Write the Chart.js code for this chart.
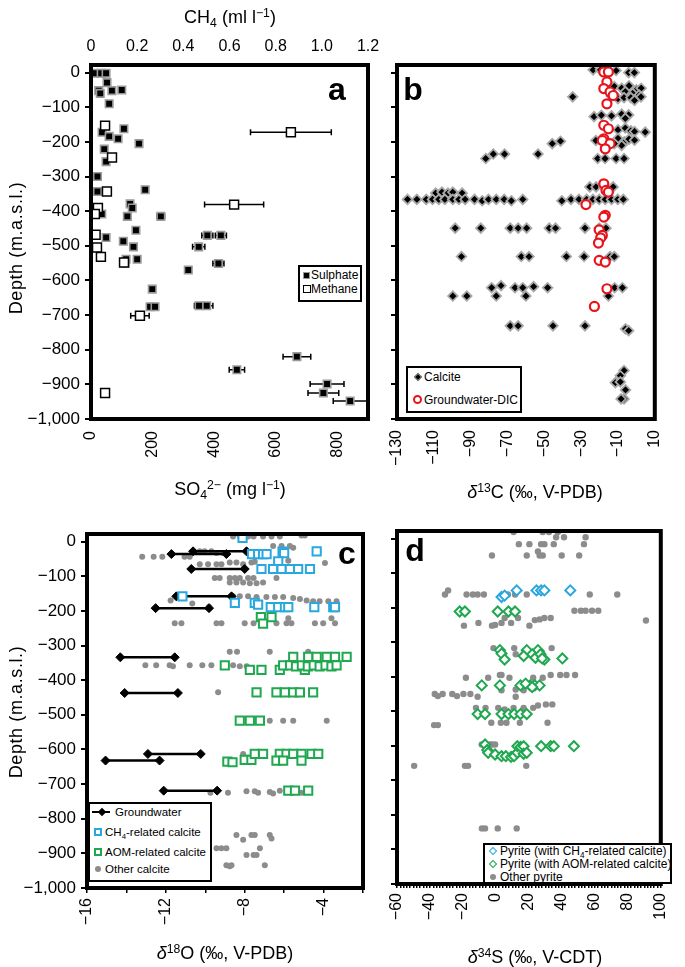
<!DOCTYPE html>
<html>
<head>
<meta charset="utf-8">
<script src="https://cdn.jsdelivr.net/npm/chart.js@4.4.0/dist/chart.umd.min.js"></script>
<style>
  body { margin: 0; background: #fff; font-family: 'Liberation Sans', Arial, Helvetica, sans-serif; color: #000; }
  #wrap { position: relative; width: 685px; height: 967px; overflow: hidden; }
  canvas { position: absolute; left: 0; top: 0; }
  .t { position: absolute; white-space: nowrap; line-height: 1; transform: translate(-50%, -50%); z-index: 5; }
  .ttl { font-size: 18px; }
  .vt { transform: translate(-50%, -50%) rotate(-90deg); font-size: 18px; letter-spacing: 0.6px; }
  .let { font-weight: bold; font-size: 32px; }
  sub, sup { font-size: 0.68em; line-height: 0; position: relative; vertical-align: baseline; }
  sub { top: 0.32em; }
  sup { top: -0.5em; }
  .leg { position: absolute; border: 2px solid #000; background: #fff; box-sizing: border-box; z-index: 5; }
  .row { position: absolute; white-space: nowrap; line-height: 14px; height: 14px; }
  .mk { position: absolute; box-sizing: border-box; }
</style>
</head>
<body>
<div id="wrap">
  <canvas id="chartA" width="685" height="967"></canvas>
  <canvas id="chartB" width="685" height="967"></canvas>
  <canvas id="chartC" width="685" height="967"></canvas>
  <canvas id="chartD" width="685" height="967"></canvas>

  <div class="t ttl" style="left:230px;top:17px">CH<sub>4</sub> (ml l<sup>−1</sup>)</div>
  <div class="t ttl" style="left:230px;top:489px">SO<sub>4</sub><sup>2−</sup> (mg l<sup>−1</sup>)</div>
  <div class="t ttl" style="left:535px;top:492px"><i>δ</i><sup>13</sup>C (‰, V-PDB)</div>
  <div class="t ttl" style="left:225px;top:953px"><i>δ</i><sup>18</sup>O (‰, V-PDB)</div>
  <div class="t ttl" style="left:535px;top:957px"><i>δ</i><sup>34</sup>S (‰, V-CDT)</div>
  <div class="t vt" style="left:16px;top:248px">Depth (m.a.s.l.)</div>
  <div class="t vt" style="left:16px;top:712px">Depth (m.a.s.l.)</div>

  <div class="t let" style="left:337px;top:89px">a</div>
  <div class="t let" style="left:413px;top:89px">b</div>
  <div class="t let" style="left:347px;top:553px">c</div>
  <div class="t let" style="left:415px;top:550px">d</div>

  <!-- legend a -->
  <div class="leg" style="left:298px;top:265px;width:64px;height:37px;font-size:12px">
    <div class="row" style="left:0;top:1px"><span class="mk" style="left:3px;top:4px;width:7px;height:7px;background:#000;border:1px solid #999"></span><span style="position:absolute;left:11px">Sulphate</span></div>
    <div class="row" style="left:0;top:15px"><span class="mk" style="left:3px;top:3px;width:8px;height:8px;background:#fff;border:1.5px solid #000"></span><span style="position:absolute;left:11px">Methane</span></div>
  </div>
  <!-- legend b -->
  <div class="leg" style="left:406px;top:366px;width:116px;height:47px;font-size:12px">
    <div class="row" style="left:0;top:2px"><span class="mk" style="left:7px;top:4px;width:6px;height:6px;background:#000;border:1px solid #999;transform:rotate(45deg)"></span><span style="position:absolute;left:16px">Calcite</span></div>
    <div class="row" style="left:0;top:25px"><span class="mk" style="left:5px;top:2px;width:9px;height:9px;border:2px solid #e8141c;border-radius:50%"></span><span style="position:absolute;left:16px">Groundwater-DIC</span></div>
  </div>
  <!-- legend c -->
  <div class="leg" style="left:88px;top:802px;width:124px;height:80px;font-size:11.5px">
    <div class="row" style="left:0;top:1px"><span class="mk" style="left:2px;top:6px;width:18px;height:2px;background:#000"></span><span class="mk" style="left:9px;top:4px;width:6px;height:6px;background:#000;transform:rotate(45deg)"></span><span style="position:absolute;left:25px">Groundwater</span></div>
    <div class="row" style="left:0;top:21px"><span class="mk" style="left:4px;top:3px;width:8px;height:8px;border:2px solid #29a8e0"></span><span style="position:absolute;left:15px">CH<sub>4</sub>-related calcite</span></div>
    <div class="row" style="left:0;top:41px"><span class="mk" style="left:4px;top:3px;width:8px;height:8px;border:2px solid #1fa84f"></span><span style="position:absolute;left:15px">AOM-related calcite</span></div>
    <div class="row" style="left:0;top:58px"><span class="mk" style="left:5px;top:4px;width:6px;height:6px;background:#8c8c8c;border-radius:50%"></span><span style="position:absolute;left:15px">Other calcite</span></div>
  </div>
  <!-- legend d -->
  <div class="leg" style="left:483px;top:843px;width:189px;height:41px;font-size:12px">
    <div class="row" style="left:0;top:-1px"><span class="mk" style="left:5px;top:4px;width:6px;height:6px;border:1.5px solid #29a8e0;transform:rotate(45deg)"></span><span style="position:absolute;left:15px">Pyrite (with CH<sub>4</sub>-related calcite)</span></div>
    <div class="row" style="left:0;top:12px"><span class="mk" style="left:5px;top:4px;width:6px;height:6px;border:1.5px solid #1fa84f;transform:rotate(45deg)"></span><span style="position:absolute;left:15px">Pyrite (with AOM-related calcite)</span></div>
    <div class="row" style="left:0;top:25px"><span class="mk" style="left:5px;top:4px;width:6px;height:6px;background:#8c8c8c;border-radius:50%"></span><span style="position:absolute;left:15px">Other pyrite</span></div>
  </div>
</div>

<script>
// ---- panel a: [SO4 mg/l, depth, error]
const sulphate = [
  [13, -2, 0], [33, -2, 0], [49, -2, 0], [52, -29, 0], [25, -52, 0], [30, -60, 0], [68, -52, 0], [100, -50, 0],
  [59, -90, 0], [107, -162, 0], [36, -172, 0], [59, -184, 0], [88, -191, 0], [156, -205, 0], [43, -221, 0],
  [49, -257, 0], [21, -300, 0], [21, -343, 0], [176, -338, 0], [127, -379, 0], [134, -391, 0], [35, -408, 0],
  [118, -415, 0], [227, -415, 12], [146, -455, 0], [49, -476, 0], [378, -470, 18], [422, -470, 18], [105, -487, 0],
  [138, -503, 0], [350, -503, 20], [114, -539, 0], [150, -539, 0], [111, -550, 0], [414, -551, 18], [316, -570, 10],
  [199, -625, 0], [192, -676, 0], [208, -676, 8], [351, -673, 15], [376, -673, 20], [669, -820, 45], [474, -858, 25],
  [767, -899, 55], [755, -925, 50], [842, -948, 55]
];
// [CH4 ml/l, depth, error]
const methane = [
  [0.061, -153, 0], [0.866, -172, 0.175], [0.091, -245, 0], [0.069, -343, 0], [0.62, -381, 0.128],
  [0.03, -391, 0], [0.017, -408, 0], [0.02, -468, 0], [0.026, -505, 0], [0.043, -532, 0],
  [0.143, -548, 0.012], [0.212, -702, 0.04], [0.061, -925, 0]
];

// ---- panel b: [d13C, depth]
const calcite = [
  [-23.5, 8], [-19.5, 8], [-15.5, 8], [-11, 6], [-4.2, 0], [-1.1, 0],
  [-12, -40], [-8, -45], [-4, -38], [0, -50], [2.6, -45], [-6, -55], [-2, -60], [1.5, -65],
  [-34.6, -70], [-13.5, -68], [-10, -75], [-6.7, -72], [-3, -72], [-1, -80], [2.5, -70],
  [-23, -127], [-19, -123], [-13.5, -125], [-8, -120], [-4.2, -122], [-6, -132],
  [-10, -165], [-6, -160], [-3, -168], [-1, -170], [4.8, -172], [-22, -196], [-10, -190], [-6.5, -200],
  [-4, -192], [-1, -195], [-8, -210], [-12, -205], [-45.7, -205], [-41.2, -198],
  [-81.8, -248], [-77.7, -235], [-71.6, -235], [-53.4, -235],
  [-21, -248], [-17, -248], [-11, -248], [-6.7, -248],
  [-109, -348], [-105.6, -345], [-102.3, -348], [-99.7, -345], [-94.6, -348],
  [-25.3, -330], [-21.9, -330], [-17.7, -330], [-12.6, -330],
  [-124.3, -366], [-119.2, -366], [-114.1, -366], [-110.7, -366], [-107.3, -366], [-104, -366], [-99.7, -366],
  [-96.4, -366], [-93, -366], [-87.9, -366], [-83.7, -370], [-80.3, -366], [-76.1, -366], [-71.8, -366],
  [-67.9, -370], [-61.7, -366], [-40.5, -370], [-35.5, -366], [-31.2, -366], [-27, -366], [-23.6, -366],
  [-20.2, -366], [-16.9, -366], [-13.5, -366], [-10.1, -366], [-7.1, -366],
  [-98.4, -449], [-84.5, -449], [-68.5, -449], [-64.2, -449], [-59.6, -449], [-47.3, -449], [-43.9, -449],
  [-27.9, -449], [-20.2, -449], [-16.5, -449],
  [-95, -531], [-62.5, -531], [-58.3, -531], [-38, -531], [-28.4, -531], [-14.3, -531], [-12, -531],
  [-78.6, -621], [-73.5, -615], [-65.9, -621], [-61.7, -621], [-55.8, -618], [-48.2, -621], [-11.8, -621], [-7.6, -621],
  [-99.7, -645], [-92.1, -645], [-76.1, -645], [-60, -645], [-15.2, -645],
  [-68.5, -731], [-64.2, -731], [-45.3, -731], [-27.9, -731], [-5.9, -740], [-4.2, -745],
  [-6.7, -860], [-8.7, -875], [-11.4, -895], [-8.7, -893], [-5.9, -916], [-6.7, -942], [-8.3, -942]
];
const groundwaterDIC = [
  [-17.7, 2], [-15.2, 2], [-16, -27], [-17.7, -46], [-14.3, -56], [-12.6, -66], [-16, -90], [-17.7, -152],
  [-15.2, -162], [-17.7, -191], [-18.5, -196], [-14.3, -205], [-16.9, -220], [-17.7, -321], [-16.5, -340],
  [-15.2, -345], [-27.4, -381], [-16.9, -412], [-17.7, -417], [-20.2, -454], [-18.5, -470], [-19.4, -477],
  [-20.6, -492], [-20.2, -542], [-16.9, -547], [-16, -624], [-22.8, -675]
];

// ---- panel c: groundwater ranges [d18O from, d18O to, depth]
const groundwaterO = [
  [-11.72, -8.93, -36], [-10.62, -7.91, -28], [-10.71, -8.0, -79], [-11.47, -8.67, -158], [-12.52, -9.81, -192],
  [-14.31, -11.55, -334], [-14.09, -11.39, -437], [-12.91, -10.23, -613], [-15.06, -12.32, -632], [-12.11, -9.4, -719]
];
const ch4Calcite = [
  [-8.11, 11], [-7.63, -36], [-7.32, -36], [-7.07, -36], [-6.89, -36], [-6.08, -29], [-6.0, -33], [-4.35, -28],
  [-6.3, -57], [-7.15, -79], [-6.56, -79], [-6.13, -79], [-5.71, -79], [-5.29, -79], [-4.69, -79],
  [-11.16, -158], [-8.5, -177], [-7.49, -177], [-7.32, -182], [-6.68, -189], [-6.3, -189], [-5.96, -189],
  [-5.79, -189], [-4.47, -189], [-3.51, -189], [-3.42, -189]
];
const aomCalcite = [
  [-7.18, -218], [-6.64, -218], [-7.07, -237],
  [-9.01, -357], [-7.74, -370], [-7.15, -370], [-6.22, -370], [-4.95, -370],
  [-5.54, -333], [-4.78, -333], [-4.35, -333], [-3.84, -333], [-3.42, -333], [-2.83, -333],
  [-6.05, -357], [-5.7, -357], [-5.4, -360], [-5.1, -357], [-4.8, -360], [-4.5, -357], [-4.2, -360],
  [-3.9, -357], [-3.6, -360], [-3.34, -357],
  [-7.4, -435], [-6.39, -435], [-5.96, -435], [-5.54, -435], [-5.2, -435], [-4.53, -435],
  [-8.25, -517], [-7.74, -517], [-7.23, -517],
  [-8.88, -635], [-8.62, -637], [-8.0, -630], [-7.66, -630], [-7.49, -613], [-7.07, -613], [-6.22, -613],
  [-5.88, -613], [-5.54, -613], [-5.12, -613], [-4.61, -613], [-4.27, -613], [-6.39, -632], [-6.05, -632], [-5.12, -632],
  [-5.79, -719], [-5.45, -719], [-4.78, -719]
];
const otherCalcite = [
  [-8.59, 15], [-8.25, 15], [-7.83, 15], [-7.55, 15], [-7.07, 15], [-6.64, 15], [-6.22, 15], [-5.12, 18], [-4.95, 18],
  [-6.56, -13], [-6.13, -13], [-5.71, -13], [-5.54, -18],
  [-13.2, -44], [-12.62, -44], [-12.18, -44], [-11.05, -44], [-10.79, -44], [-10.28, -28], [-10.03, -28],
  [-9.69, -28], [-9.43, -33], [-9.1, -33],
  [-10.28, -65], [-9.86, -65], [-9.43, -65], [-9.18, -65], [-8.76, -60], [-8.42, -60], [-8.08, -65], [-7.66, -60],
  [-7.49, -58], [-6.39, -60], [-5.79, -55], [-3.93, -62],
  [-9.52, -105], [-9.27, -105], [-8.76, -105], [-8.5, -105], [-8.25, -105], [-7.83, -105], [-7.55, -105], [-6.39, -105],
  [-8.76, -118], [-8.42, -118], [-8.08, -118], [-7.74, -120], [-7.4, -120], [-7.07, -118],
  [-8.59, -158], [-8.25, -158], [-7.83, -158], [-7.4, -160], [-6.9, -160], [-6.47, -160], [-6.05, -160],
  [-5.54, -163], [-5.2, -166], [-4.86, -170], [-4.53, -172], [-4.2, -172], [-3.76, -172], [-3.34, -172],
  [-11.76, -170], [-10.66, -179], [-9.81, -189],
  [-11.55, -236], [-11.21, -236], [-9.43, -236], [-9.18, -236], [-8.0, -236], [-7.55, -236], [-6.39, -236],
  [-5.88, -236], [-5.63, -236], [-4.44, -236], [-4.02, -236], [-3.42, -236], [-5.79, -221], [-3.6, -221],
  [-8.76, -318], [-8.39, -318], [-6.73, -318], [-4.78, -318],
  [-13.04, -357], [-12.49, -357], [-11.81, -357], [-11.64, -360], [-10.79, -357], [-10.15, -357], [-9.69, -357],
  [-8.59, -357], [-8.25, -360], [-7.9, -360],
  [-9.35, -435], [-6.73, -517], [-6.05, -517], [-5.54, -517], [-3.84, -517],
  [-8.08, -613], [-7.95, -632],
  [-9.74, -725], [-8.85, -725], [-7.91, -721], [-7.49, -721], [-7.32, -725], [-6.73, -723], [-6.56, -727],
  [-6.22, -719], [-5.12, -725],
  [-8.42, -847], [-8.08, -861], [-7.66, -847], [-7.49, -847], [-6.73, -847], [-6.64, -857],
  [-9.43, -885], [-9.18, -885], [-8.93, -885], [-7.23, -885],
  [-7.91, -905], [-7.55, -905], [-7.4, -905],
  [-8.93, -934], [-8.76, -937], [-8.67, -934], [-6.98, -934]
];

// ---- panel d: [d34S, depth]
const ch4Pyrite = [[3.4, -169], [5.3, -165], [12.6, -150], [24.6, -150], [27.4, -150], [29.4, -150], [45.1, -150]];
const aomPyrite = [
  [-22, -211], [-18.8, -211], [1.1, -211], [7.6, -211], [11.6, -211],
  [2.4, -323], [3.4, -333], [5.3, -350], [18.7, -323], [16.8, -340], [25.5, -323], [26.5, -340], [29.4, -350],
  [40.3, -347], [22, -335], [24, -345], [27, -335], [28, -347],
  [-8.6, -425], [2.4, -425], [14.9, -425], [20.7, -425], [23.6, -425], [26.5, -425], [18, -420], [22, -430],
  [-11.1, -508], [-6.6, -508], [3.4, -508], [7.6, -508], [11.1, -508], [14.9, -508], [18.7, -508],
  [-6.6, -596], [-5.3, -612], [-4.7, -620], [-0.5, -625], [3.4, -630], [6, -630], [9.2, -632], [11, -630],
  [13, -620], [13, -601], [15, -603], [16.8, -601], [16.8, -623], [18.7, -620], [27.4, -601], [33.2, -601],
  [35.1, -601], [47.3, -601]
];
const otherPyrite = [
  [10.7, 19], [28.4, 19], [32.2, 19], [37.6, 19], [36.5, 4], [41.3, 4], [54.4, 4],
  [13.9, -16], [20.3, -16], [27.4, -16], [29.4, -16], [35.1, -16], [53.4, -16],
  [-2.4, -49], [18.7, -49], [25.5, -37], [26.5, -49], [28.4, -49], [39.9, -49], [50.5, -49],
  [-30.9, -162], [-29, -150], [-17.8, -162], [-14, -162], [-11.1, -162], [-7.3, -162], [7.2, -162], [11.6, -162],
  [18.7, -162], [56.9, -162], [73.6, -162],
  [47.6, -209], [51.5, -209], [54.4, -209], [58.3, -209], [62.1, -209], [91, -237],
  [-19.4, -252], [-10.6, -244], [-2.4, -252], [-0.5, -250], [3.4, -244], [9.2, -244], [5.3, -230], [13.4, -230],
  [20.3, -252], [23.6, -236], [26.5, -234], [29.4, -230], [33.2, -230],
  [-1.5, -317], [11.1, -317], [33.8, -317], [4, -330], [12, -335], [20, -335], [28, -330],
  [2.4, -395], [3.4, -395], [8.2, -403], [22.6, -403], [28.4, -403], [33.2, -395], [39, -395], [42.8, -395],
  [48, -395], [-18.2, -403], [-4.7, -403],
  [-37.1, -450], [-35.2, -456], [-32.3, -450], [-26.5, -450], [-23.6, -456], [-19.7, -450], [-15.5, -450],
  [-11.1, -458], [3.4, -439], [12, -437], [12, -458], [16.8, -439],
  [-12.1, -490], [-6.3, -490], [1.4, -490], [5.3, -495], [10.7, -490], [16.8, -490], [22.6, -490], [25.5, -483],
  [30.3, -480], [34.2, -480],
  [-2.8, -533], [3, -533], [6.4, -533], [14.5, -533], [31.3, -533], [-37.5, -540], [-35.2, -540],
  [-8.6, -596], [-7.3, -596], [-5.3, -596], [-3.4, -596], [-2.4, -596], [-0.5, -596],
  [-49.6, -658], [-18.8, -658], [-16.9, -658], [18.4, -658],
  [-8.5, -839], [-6.6, -839], [1.1, -839], [12.6, -839]
];

const BLUE = '#29a8e0';
const GREEN = '#1fa84f';
const GREY = '#8c8c8c';

Chart.defaults.font.family = "'Liberation Sans', Arial, Helvetica, sans-serif";
Chart.defaults.font.size = 16;
Chart.defaults.color = '#000';
Chart.defaults.animation = false;

const fmt = v => (v < 0 ? '\u2212' : '') + Math.abs(v).toLocaleString('en-US');
const pts = arr => arr.map(p => ({ x: p[0], y: p[1] }));

// thick frame round the plot area
const framePlugin = {
  id: 'frame',
  afterDatasetsDraw(chart) {
    const { ctx, chartArea: a } = chart;
    ctx.save();
    ctx.lineWidth = 4;
    ctx.strokeStyle = '#000';
    ctx.strokeRect(a.left, a.top, a.right - a.left, a.bottom - a.top);
    ctx.restore();
  }
};

// horizontal error bars from dataset.errX
const errorBarPlugin = {
  id: 'errorBars',
  beforeDatasetsDraw(chart) {
    const ctx = chart.ctx;
    chart.data.datasets.forEach((ds, i) => {
      if (!ds.errX) return;
      const meta = chart.getDatasetMeta(i);
      const xs = chart.scales[meta.xAxisID];
      ctx.save();
      ctx.strokeStyle = '#000';
      ctx.lineWidth = 1.5;
      meta.data.forEach((pt, j) => {
        const e = ds.errX[j];
        if (!e) return;
        const v = ds.data[j].x;
        const x1 = xs.getPixelForValue(v - e);
        const x2 = xs.getPixelForValue(v + e);
        ctx.beginPath();
        ctx.moveTo(x1, pt.y); ctx.lineTo(x2, pt.y);
        ctx.moveTo(x1, pt.y - 3); ctx.lineTo(x1, pt.y + 3);
        ctx.moveTo(x2, pt.y - 3); ctx.lineTo(x2, pt.y + 3);
        ctx.stroke();
      });
      ctx.restore();
    });
  }
};

function depthAxis(width, labels) {
  return {
    type: 'linear', min: -1000, max: 22,
    ticks: { stepSize: 100, includeBounds: false, display: labels, padding: 5, font: { size: 17 }, callback: v => fmt(v) },
    grid: { drawOnChartArea: false, tickLength: 6, lineWidth: 2, color: '#000' },
    border: { display: false },
    afterFit: s => { s.width = width; }
  };
}

function bottomAxis(min, max, step, every, tick, pad) {
  return {
    type: 'linear', position: 'bottom', min: min, max: max,
    ticks: {
      stepSize: step, includeBounds: false, autoSkip: false, maxTicksLimit: 1000,
      minRotation: 90, maxRotation: 90, padding: pad,
      callback: v => (Math.round(v - min) % every === 0 ? fmt(Math.round(v)) : '')
    },
    grid: { display: tick > 0, drawOnChartArea: false, tickLength: tick, lineWidth: 1.5, color: '#000' },
    border: { display: false },
    afterFit: s => { s.height = 62; }
  };
}

const baseOptions = (padding, scales) => ({
  responsive: false,
  animation: false,
  layout: { padding: padding },
  plugins: { legend: { display: false }, tooltip: { enabled: false } },
  scales: scales
});

// panel a
new Chart(document.getElementById('chartA'), {
  type: 'scatter',
  data: {
    datasets: [
      {
        label: 'Methane', xAxisID: 'xTop', data: pts(methane), errX: methane.map(p => p[2]),
        pointStyle: 'rect', pointRadius: 6.3, pointBackgroundColor: '#fff', pointBorderColor: '#000', pointBorderWidth: 1.5
      },
      {
        label: 'Sulphate', xAxisID: 'x', data: pts(sulphate), errX: sulphate.map(p => p[2]),
        pointStyle: 'rect', pointRadius: 5.3, pointBackgroundColor: '#000', pointBorderColor: '#9a9a9a', pointBorderWidth: 1.6
      }
    ]
  },
  options: baseOptions({ left: 0, top: 0, right: 317, bottom: 486 }, {
    x: bottomAxis(0, 900, 200, 200, 0, 12),
    xTop: {
      type: 'linear', position: 'top', min: 0, max: 1.2,
      ticks: { stepSize: 0.2, padding: 9 },
      grid: { display: false, drawTicks: false },
      border: { display: false },
      afterFit: s => { s.height = 65; }
    },
    y: depthAxis(91, true)
  }),
  plugins: [errorBarPlugin, framePlugin]
});

// panel b
new Chart(document.getElementById('chartB'), {
  type: 'scatter',
  data: {
    datasets: [
      {
        label: 'Groundwater-DIC', data: pts(groundwaterDIC),
        pointStyle: 'circle', pointRadius: 4.5, pointBackgroundColor: '#fff', pointBorderColor: '#e8141c', pointBorderWidth: 2.2
      },
      {
        label: 'Calcite', data: pts(calcite),
        pointStyle: 'rectRot', pointRadius: 4.8, pointBackgroundColor: '#000', pointBorderColor: '#a8a8a8', pointBorderWidth: 1.8
      }
    ]
  },
  options: baseOptions({ left: 380, top: 65, right: 12, bottom: 486 }, {
    x: bottomAxis(-130, 10, 20, 20, 0, 11),
    y: depthAxis(17, false)
  }),
  plugins: [framePlugin]
});

// panel c
const gwSets = groundwaterO.map(g => ({
  label: 'Groundwater', data: [{ x: g[0], y: g[2] }, { x: g[1], y: g[2] }],
  showLine: true, borderColor: '#000', borderWidth: 2.5,
  pointStyle: 'rectRot', pointRadius: 4.5, pointBackgroundColor: '#000', pointBorderColor: '#000', pointBorderWidth: 1
}));
new Chart(document.getElementById('chartC'), {
  type: 'scatter',
  data: {
    datasets: [
      {
        label: 'CH4-related calcite', data: pts(ch4Calcite),
        pointStyle: 'rect', pointRadius: 5.8, pointBackgroundColor: '#fff', pointBorderColor: BLUE, pointBorderWidth: 2
      },
      {
        label: 'AOM-related calcite', data: pts(aomCalcite),
        pointStyle: 'rect', pointRadius: 5.8, pointBackgroundColor: '#fff', pointBorderColor: GREEN, pointBorderWidth: 2
      },
      ...gwSets,
      {
        label: 'Other calcite', data: pts(otherCalcite),
        pointStyle: 'circle', pointRadius: 3, pointBackgroundColor: GREY, pointBorderColor: GREY, pointBorderWidth: 0
      }
    ]
  },
  options: baseOptions({ left: 0, top: 534, right: 322, bottom: 17 }, {
    x: bottomAxis(-16, -2, 2, 4, 5, 5),
    y: depthAxis(87, true)
  }),
  plugins: [framePlugin]
});

// panel d
new Chart(document.getElementById('chartD'), {
  type: 'scatter',
  data: {
    datasets: [
      {
        label: 'Pyrite (with CH4-related calcite)', data: pts(ch4Pyrite),
        pointStyle: 'rectRot', pointRadius: 5, pointBackgroundColor: '#fff', pointBorderColor: BLUE, pointBorderWidth: 2
      },
      {
        label: 'Pyrite (with AOM-related calcite)', data: pts(aomPyrite),
        pointStyle: 'rectRot', pointRadius: 5, pointBackgroundColor: '#fff', pointBorderColor: GREEN, pointBorderWidth: 2
      },
      {
        label: 'Other pyrite', data: pts(otherPyrite),
        pointStyle: 'circle', pointRadius: 3.2, pointBackgroundColor: GREY, pointBorderColor: GREY, pointBorderWidth: 0
      }
    ]
  },
  options: baseOptions({ left: 380, top: 531, right: 12, bottom: 21 }, {
    x: bottomAxis(-60, 100, 2, 20, 4, 5),
    y: depthAxis(17, false)
  }),
  plugins: [framePlugin]
});
</script>
</body>
</html>
